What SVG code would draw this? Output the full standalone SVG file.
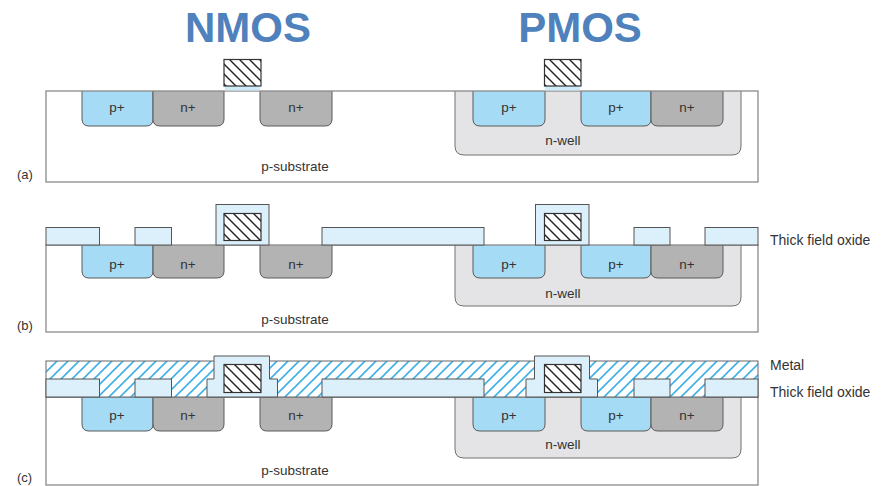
<svg xmlns="http://www.w3.org/2000/svg" width="881" height="486" viewBox="0 0 881 486">
  <style>
    .title { font-family: "Liberation Sans", Arial, sans-serif; font-weight: bold; font-size: 42px; fill: #4f81bd; text-anchor: middle; }
    .lbl { font-family: "Liberation Sans", Arial, sans-serif; font-size: 13.5px; fill: #333; text-anchor: middle; }
    .side { font-family: "Liberation Sans", Arial, sans-serif; font-size: 14px; fill: #333; }
    .sub { fill: none; stroke: #8a8a8a; stroke-width: 1.3; }
    .subfill { fill: #fff; }
    .pp { fill: #a6dbf5; stroke: #5a5a5a; stroke-width: 1; }
    .np { fill: #b3b3b3; stroke: #5a5a5a; stroke-width: 1; }
    .nw { fill: #e4e4e6; stroke: #707070; stroke-width: 1; }
    .ox { fill: #dcf0fb; stroke: #555; stroke-width: 1; }
    .gate { fill: url(#gateHatch); stroke: #333; stroke-width: 1.2; }
    .thin { fill: #cfeaf9; stroke: none; }
    .metal { fill: url(#metalHatch); stroke: #666; stroke-width: 1; }
  </style>
  <defs>
    <!-- polysilicon gate: black back-slash hatching -->
    <pattern id="gateHatch" patternUnits="userSpaceOnUse" width="10" height="10">
      <rect width="10" height="10" fill="#fff"/>
      <path d="M-2,-2 L12,12 M-2,8 L2,12 M8,-2 L12,2" stroke="#222" stroke-width="1.4"/>
    </pattern>
    <!-- metal: light blue forward-slash hatching -->
    <pattern id="metalHatch" patternUnits="userSpaceOnUse" width="11" height="11">
      <rect width="11" height="11" fill="#fff"/>
      <path d="M-2,13 L13,-2 M-2,2 L2,-2 M9,13 L13,9" stroke="#3fb1e8" stroke-width="1.6"/>
    </pattern>
  </defs>

  <rect width="881" height="486" fill="#fff"/>

  <g id="titles">
    <text class="title" x="248" y="42">NMOS</text>
    <text class="title" x="580" y="42">PMOS</text>
  </g>

  <!-- ===== (a) ===== -->
  <g id="panel-a">
    <rect class="subfill" x="46" y="91" width="712" height="91"/>
    <g id="a-nwell"><path class="nw" d="M455 91 V146 Q455 155 464 155 H732 Q741 155 741 146 V91"/></g>
    <g id="a-regions">
      <path class="pp" d="M82 91 V119 Q82 126 89 126 H146 Q153 126 153 119 V91"/>
      <path class="np" d="M153 91 V119 Q153 126 160 126 H217 Q224 126 224 119 V91"/>
      <path class="np" d="M260 91 V119 Q260 126 267 126 H325 Q332 126 332 119 V91"/>
      <path class="pp" d="M473 91 V119 Q473 126 480 126 H538 Q545 126 545 119 V91"/>
      <path class="pp" d="M581 91 V119 Q581 126 588 126 H644 Q651 126 651 119 V91"/>
      <path class="np" d="M651 91 V119 Q651 126 658 126 H716 Q723 126 723 119 V91"/>
    </g>
    <rect class="sub" x="46" y="91" width="712" height="91"/>
    <g id="a-gates">
      <rect class="thin" x="225" y="86" width="35" height="4.5"/>
      <rect class="gate" x="224" y="59.5" width="37" height="26.5"/>
      <rect class="thin" x="545" y="86" width="35" height="4.5"/>
      <rect class="gate" x="544.5" y="59.5" width="36.5" height="26.5"/>
    </g>
    <g id="a-labels">
      <text class="lbl" x="117" y="112">p+</text>
      <text class="lbl" x="188" y="112">n+</text>
      <text class="lbl" x="296" y="112">n+</text>
      <text class="lbl" x="509" y="112">p+</text>
      <text class="lbl" x="616" y="112">p+</text>
      <text class="lbl" x="687" y="112">n+</text>
      <text class="lbl" x="563" y="145">n-well</text>
      <text class="lbl" x="295" y="171">p-substrate</text>
      <text class="side" x="17" y="179" style="font-size:13px">(a)</text>
    </g>
  </g>

  <!-- ===== (b) ===== -->
  <g id="panel-b">
    <rect class="subfill" x="46" y="245" width="712" height="87"/>
    <g id="b-nwell"><path class="nw" d="M455 245 V297 Q455 306 464 306 H732 Q741 306 741 297 V245"/></g>
    <g id="b-regions">
      <path class="pp" d="M82 245 V271 Q82 278 89 278 H146 Q153 278 153 271 V245"/>
      <path class="np" d="M153 245 V271 Q153 278 160 278 H217 Q224 278 224 271 V245"/>
      <path class="np" d="M260 245 V271 Q260 278 267 278 H325 Q332 278 332 271 V245"/>
      <path class="pp" d="M473 245 V271 Q473 278 480 278 H538 Q545 278 545 271 V245"/>
      <path class="pp" d="M581 245 V271 Q581 278 588 278 H644 Q651 278 651 271 V245"/>
      <path class="np" d="M651 245 V271 Q651 278 658 278 H716 Q723 278 723 271 V245"/>
    </g>
    <rect class="sub" x="46" y="245" width="712" height="87"/>
    <g id="b-oxide">
      <rect class="ox" x="46" y="227.5" width="53.5" height="17.5"/>
      <rect class="ox" x="135" y="227.5" width="36.5" height="17.5"/>
      <rect class="ox" x="322" y="227.5" width="162" height="17.5"/>
      <rect class="ox" x="634" y="227.5" width="36" height="17.5"/>
      <rect class="ox" x="705" y="227.5" width="53" height="17.5"/>
      <rect class="ox" x="216" y="204.5" width="53" height="40.5"/>
      <rect class="ox" x="535.5" y="204.5" width="53.5" height="40.5"/>
    </g>
    <g id="b-gates">
      <rect class="gate" x="224" y="213.5" width="37" height="27"/>
      <rect class="gate" x="544.5" y="213.5" width="36.5" height="27"/>
    </g>
    <g id="b-labels">
      <text class="lbl" x="117" y="269">p+</text>
      <text class="lbl" x="188" y="269">n+</text>
      <text class="lbl" x="296" y="269">n+</text>
      <text class="lbl" x="509" y="269">p+</text>
      <text class="lbl" x="616" y="269">p+</text>
      <text class="lbl" x="687" y="269">n+</text>
      <text class="lbl" x="563" y="298">n-well</text>
      <text class="lbl" x="295" y="324">p-substrate</text>
      <text class="side" x="17" y="330" style="font-size:13px">(b)</text>
      <text class="side" x="770" y="245">Thick field oxide</text>
    </g>
  </g>

  <!-- ===== (c) ===== -->
  <g id="panel-c">
    <rect class="subfill" x="46" y="397" width="712" height="88"/>
    <g id="c-nwell"><path class="nw" d="M455 397 V449 Q455 458 464 458 H732 Q741 458 741 449 V397"/></g>
    <g id="c-regions">
      <path class="pp" d="M82 397 V424 Q82 431 89 431 H146 Q153 431 153 424 V397"/>
      <path class="np" d="M153 397 V424 Q153 431 160 431 H217 Q224 431 224 424 V397"/>
      <path class="np" d="M260 397 V424 Q260 431 267 431 H325 Q332 431 332 424 V397"/>
      <path class="pp" d="M473 397 V424 Q473 431 480 431 H538 Q545 431 545 424 V397"/>
      <path class="pp" d="M581 397 V424 Q581 431 588 431 H644 Q651 431 651 424 V397"/>
      <path class="np" d="M651 397 V424 Q651 431 658 431 H716 Q723 431 723 424 V397"/>
    </g>
    <rect class="sub" x="46" y="397" width="712" height="88"/>
    <g id="c-metal">
      <rect class="metal" x="46" y="361" width="712" height="36"/>
    </g>
    <g id="c-oxide">
      <rect class="ox" x="46" y="379" width="53.5" height="18"/>
      <rect class="ox" x="135" y="379" width="36.5" height="18"/>
      <rect class="ox" x="322" y="379" width="162" height="18"/>
      <rect class="ox" x="634" y="379" width="36" height="18"/>
      <rect class="ox" x="705" y="379" width="53" height="18"/>
      <path class="ox" d="M207 397 V379 H214 V356 H269.5 V379 H277.5 V397 Z"/>
      <path class="ox" d="M526 397 V379 H534.5 V356 H589.5 V379 H597.5 V397 Z"/>
    </g>
    <g id="c-gates">
      <rect class="gate" x="224" y="364.5" width="37" height="28"/>
      <rect class="gate" x="544.5" y="364.5" width="36.5" height="28"/>
    </g>
    <g id="c-labels">
      <text class="lbl" x="117" y="420">p+</text>
      <text class="lbl" x="188" y="420">n+</text>
      <text class="lbl" x="296" y="420">n+</text>
      <text class="lbl" x="509" y="420">p+</text>
      <text class="lbl" x="616" y="420">p+</text>
      <text class="lbl" x="687" y="420">n+</text>
      <text class="lbl" x="563" y="449">n-well</text>
      <text class="lbl" x="295" y="475">p-substrate</text>
      <text class="side" x="17" y="482" style="font-size:13px">(c)</text>
      <text class="side" x="770" y="370">Metal</text>
      <text class="side" x="770" y="397">Thick field oxide</text>
    </g>
  </g>
</svg>
